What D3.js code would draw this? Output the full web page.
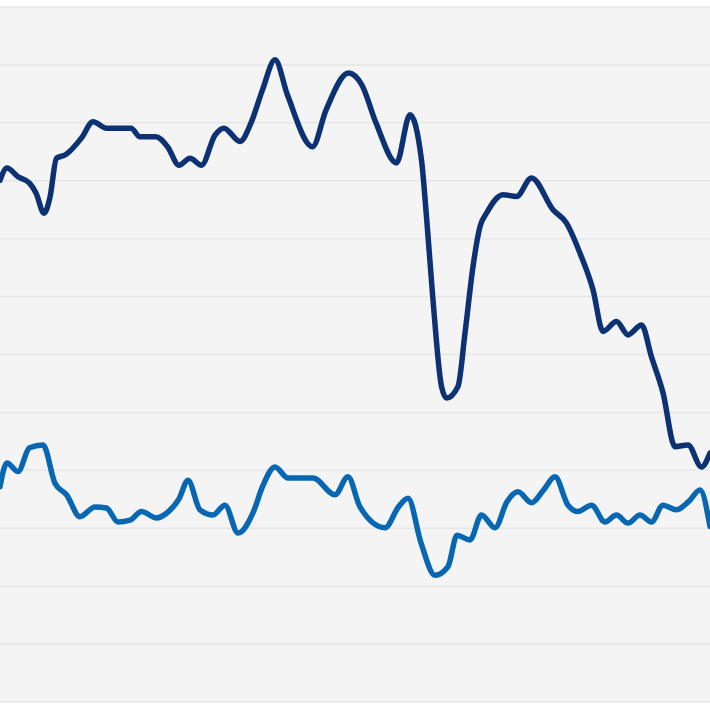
<!DOCTYPE html>
<html>
<head>
<meta charset="utf-8">
<script src="https://cdn.jsdelivr.net/npm/d3@7"></script>
<style>
  html, body { margin: 0; padding: 0; background: #ffffff; }
  svg { display: block; }
</style>
</head>
<body>
<div id="chart"></div>
<script>
// Period index (x) and values (y) for each series
const darkT = [0, 1.4, 3.6, 5.9, 7.2, 8.8, 10, 11.3, 13.1, 16.3, 18.6, 21.3, 26.2, 28, 31.2, 33.5, 35.8, 38, 40.3, 43, 44.8, 48, 50.2, 52.5, 55, 57.5, 62.5, 65.2, 69.7, 72.4, 75.2, 79.3, 82, 84.3, 85.3, 86.6, 88.3, 89.3, 91.6, 93, 94.6, 96, 97.3, 100.6, 103.3, 106.3, 110.6, 113.3, 116, 118.6, 120.6, 123.3, 125.6, 128.3, 130.3, 132.6, 135, 137.6, 140.3, 142];
const darkV = [90.0, 92.1, 90.6, 89.5, 87.8, 84.3, 87.1, 93.8, 94.4, 97.3, 100.1, 99.0, 99.0, 97.5, 97.5, 95.8, 92.6, 93.8, 92.6, 97.8, 99.0, 96.7, 99.9, 105.6, 110.8, 104.7, 95.8, 102.1, 108.5, 106.4, 99.9, 93.0, 101.3, 93.5, 83.7, 69.3, 54.4, 52.4, 54.4, 63.6, 75.1, 82.0, 84.3, 87.5, 87.2, 90.4, 84.9, 82.6, 77.4, 71.1, 63.9, 65.6, 63.3, 65.0, 59.5, 53.3, 44.0, 44.3, 40.5, 42.9];

const lightT = [0, 1.4, 3.6, 5.9, 8.6, 11, 13.3, 16, 19, 21.3, 23.6, 26, 28.3, 31.3, 33.3, 35.8, 37.6, 40, 42.6, 45, 47.6, 50.7, 52.5, 55, 57.6, 62.6, 67, 69.6, 72, 77, 79.7, 81.6, 84.2, 87, 89.6, 91.4, 94, 96.3, 99, 101.4, 103.6, 106.3, 108.7, 111, 113.6, 115.6, 118.3, 121, 123.3, 125.6, 128, 130.3, 132.6, 135.3, 137.7, 140, 142];
const lightV = [37.1, 41.2, 39.7, 43.8, 44.3, 37.7, 35.7, 31.9, 33.6, 33.4, 31.0, 31.3, 32.8, 31.7, 32.5, 35.0, 38.2, 33.1, 32.2, 33.9, 29.1, 32.8, 37.1, 40.5, 38.6, 38.6, 35.7, 38.8, 33.6, 30.0, 33.6, 35.1, 27.4, 21.8, 23.3, 28.7, 27.9, 32.2, 30.0, 34.5, 36.2, 34.3, 36.5, 38.8, 33.9, 32.8, 33.9, 31.0, 32.2, 30.8, 32.2, 31.0, 33.9, 33.1, 34.5, 36.5, 30.2];

const gridValues = [0, 10, 20, 30, 40, 50, 60, 70, 80, 90, 100, 110, 120];

const W = 710, H = 710;
const svg = d3.select("#chart").append("svg").attr("width", W).attr("height", H);

const x = d3.scaleLinear().domain([0, 142]).range([0, 710]);
const y = d3.scaleLinear().domain([0, 120]).range([701.5, 6.5]);

// plot background
svg.append("rect")
  .attr("x", 0).attr("y", y(120))
  .attr("width", W).attr("height", y(0) - y(120))
  .attr("fill", "#f4f4f4");

// gridlines
const grid = svg.append("g")
  .call(d3.axisLeft(y).tickValues(gridValues).tickSize(-W).tickFormat(""));
grid.select(".domain").remove();
grid.selectAll(".tick line").attr("stroke", "#e6e6e6").attr("stroke-width", 1.5);

const line = d3.line()
  .x(d => x(d[0]))
  .y(d => y(d[1]))
  .curve(d3.curveMonotoneX);

const dark = darkT.map((t, i) => [t, darkV[i]]);
const light = lightT.map((t, i) => [t, lightV[i]]);

svg.append("path").datum(light)
  .attr("d", line)
  .attr("fill", "none")
  .attr("stroke", "#0767b3")
  .attr("stroke-width", 5.5)
  .attr("stroke-linejoin", "round")
  .attr("stroke-linecap", "round");

svg.append("path").datum(dark)
  .attr("d", line)
  .attr("fill", "none")
  .attr("stroke", "#0d3274")
  .attr("stroke-width", 5.5)
  .attr("stroke-linejoin", "round")
  .attr("stroke-linecap", "round");
</script>
</body>
</html>
